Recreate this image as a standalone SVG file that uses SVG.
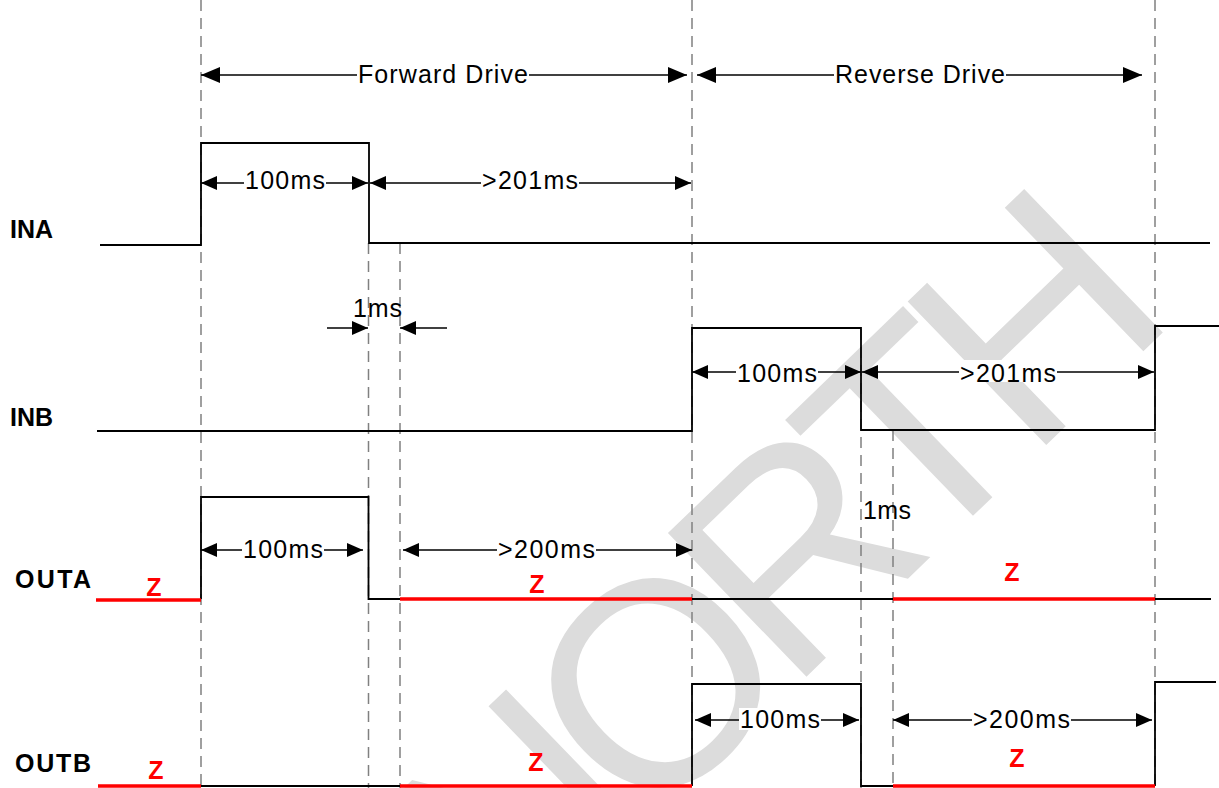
<svg xmlns="http://www.w3.org/2000/svg" width="1219" height="788" viewBox="0 0 1219 788">
<style>
.sig{fill:none;stroke:#000;stroke-width:1.8}
.z{fill:none;stroke:#f00;stroke-width:3.5}
.dash{fill:none;stroke:#808080;stroke-width:1.5;stroke-dasharray:11 7}
.dim{stroke:#000;stroke-width:1.5;marker-start:url(#ah);marker-end:url(#ah)}
.dimb{stroke:#000;stroke-width:1.6;marker-start:url(#ahb);marker-end:url(#ahb)}
.one{stroke:#000;stroke-width:1.5;marker-end:url(#ah)}
.lbl{font-family:"Liberation Sans",Arial,sans-serif;font-size:25px;fill:#000}
.c{text-anchor:middle}
.bg{fill:#fff}
.sn{font-family:"Liberation Sans",Arial,sans-serif;font-weight:bold;font-size:25px;fill:#000}
.zt{font-family:"Liberation Sans",Arial,sans-serif;font-weight:bold;font-size:25px;fill:#f00;text-anchor:middle}
.wm{font-family:"Liberation Sans",Arial,sans-serif;font-size:290px;letter-spacing:-24px;fill:#dcdcdc}
</style>
<defs>
<marker id="ah" viewBox="0 0 16 14" refX="16" refY="7" markerWidth="16" markerHeight="14" markerUnits="userSpaceOnUse" orient="auto-start-reverse"><path d="M0,0L16,7L0,14z" fill="#000"/></marker>
<marker id="ahb" viewBox="0 0 19 16" refX="19" refY="8" markerWidth="19" markerHeight="16" markerUnits="userSpaceOnUse" orient="auto-start-reverse"><path d="M0,0L19,8L0,16z" fill="#000"/></marker>
</defs>
<rect width="1219" height="788" fill="#fff"/>
<g id="watermark">
<text class="wm" x="511" y="962" transform="rotate(-44 511 962)">NORTH</text>
</g>
<g id="guides">
<line class="dash" x1="201" y1="0" x2="201" y2="788"/>
<line class="dash" x1="692" y1="0" x2="692" y2="788"/>
<line class="dash" x1="1155" y1="0" x2="1155" y2="788"/>
<line class="dash" x1="368.5" y1="243" x2="368.5" y2="788"/>
<line class="dash" x1="400" y1="243" x2="400" y2="788"/>
<line class="dash" x1="861" y1="329" x2="861" y2="788"/>
<line class="dash" x1="893" y1="430" x2="893" y2="788"/>
</g>
<g id="INA">
<text class="sn" x="10" y="238">INA</text>
<path class="sig" d="M100,245H201V143H369V243H1210"/>
</g>
<g id="INB">
<text class="sn" x="10" y="426">INB</text>
<path class="sig" d="M97,431H692V328H861V430H1155V326H1219"/>
</g>
<g id="OUTA">
<text class="sn" x="15" y="588" textLength="76">OUTA</text>
<path class="sig" d="M201,599V497H368.5V599H400M692,599H893M1155,599H1211"/>
<path class="z" d="M96,600H201M400,599H692M893,599H1155"/>
<text class="zt" x="154" y="596">Z</text>
<text class="zt" x="537" y="593">Z</text>
<text class="zt" x="1012" y="581">Z</text>
</g>
<g id="OUTB">
<text class="sn" x="15" y="772" textLength="76">OUTB</text>
<path class="sig" d="M201,786H400M692,786V684H861V786H893M1155,786V682H1216"/>
<path class="z" d="M98,786H201M400,786H692M893,786H1155"/>
<text class="zt" x="156" y="779">Z</text>
<text class="zt" x="536" y="771">Z</text>
<text class="zt" x="1017" y="767">Z</text>
</g>
<g id="connectors">
<line class="dimb" x1="201" y1="75" x2="687" y2="75"/>
<line class="dimb" x1="697" y1="75" x2="1142" y2="75"/>
<line class="dim" x1="201" y1="183" x2="368" y2="183"/>
<line class="dim" x1="370" y1="183" x2="691" y2="183"/>
<line class="one" x1="327" y1="328" x2="368" y2="328"/>
<line class="one" x1="447" y1="328" x2="400" y2="328"/>
<line class="dim" x1="692" y1="372" x2="861" y2="372"/>
<line class="dim" x1="862" y1="372" x2="1154" y2="372"/>
<line class="dim" x1="201" y1="550" x2="363" y2="550"/>
<line class="dim" x1="403" y1="550" x2="692" y2="550"/>
<line class="dim" x1="695" y1="720" x2="859" y2="720"/>
<line class="dim" x1="893" y1="720" x2="1152" y2="720"/>
</g>
<g id="labels">
<rect class="bg" x="357" y="63" width="172" height="24"/>
<text class="lbl c" x="443" y="83" textLength="170">Forward Drive</text>
<rect class="bg" x="834" y="63" width="172" height="24"/>
<text class="lbl c" x="920" y="83" textLength="170">Reverse Drive</text>
<rect class="bg" x="244" y="171" width="82" height="22"/>
<text class="lbl c" x="285" y="188.5" textLength="80">100ms</text>
<rect class="bg" x="481" y="171" width="98" height="22"/>
<text class="lbl c" x="530" y="188.5" textLength="96">&gt;201ms</text>
<text class="lbl" x="353" y="317" textLength="49">1ms</text>
<rect class="bg" x="736" y="360" width="82" height="22"/>
<text class="lbl c" x="777" y="381.7" textLength="80">100ms</text>
<rect class="bg" x="959" y="360" width="98" height="22"/>
<text class="lbl c" x="1008" y="381.7" textLength="96">&gt;201ms</text>
<text class="lbl" x="863" y="519" textLength="48">1ms</text>
<rect class="bg" x="242" y="538" width="82" height="22"/>
<text class="lbl c" x="283" y="558.3" textLength="80">100ms</text>
<rect class="bg" x="497" y="538" width="99" height="22"/>
<text class="lbl c" x="546.5" y="558.3" textLength="97">&gt;200ms</text>
<rect class="bg" x="739" y="708" width="82" height="22"/>
<text class="lbl c" x="780" y="728" textLength="80">100ms</text>
<rect class="bg" x="972" y="708" width="99" height="22"/>
<text class="lbl c" x="1021.5" y="728.3" textLength="97">&gt;200ms</text>
</g>
</svg>
